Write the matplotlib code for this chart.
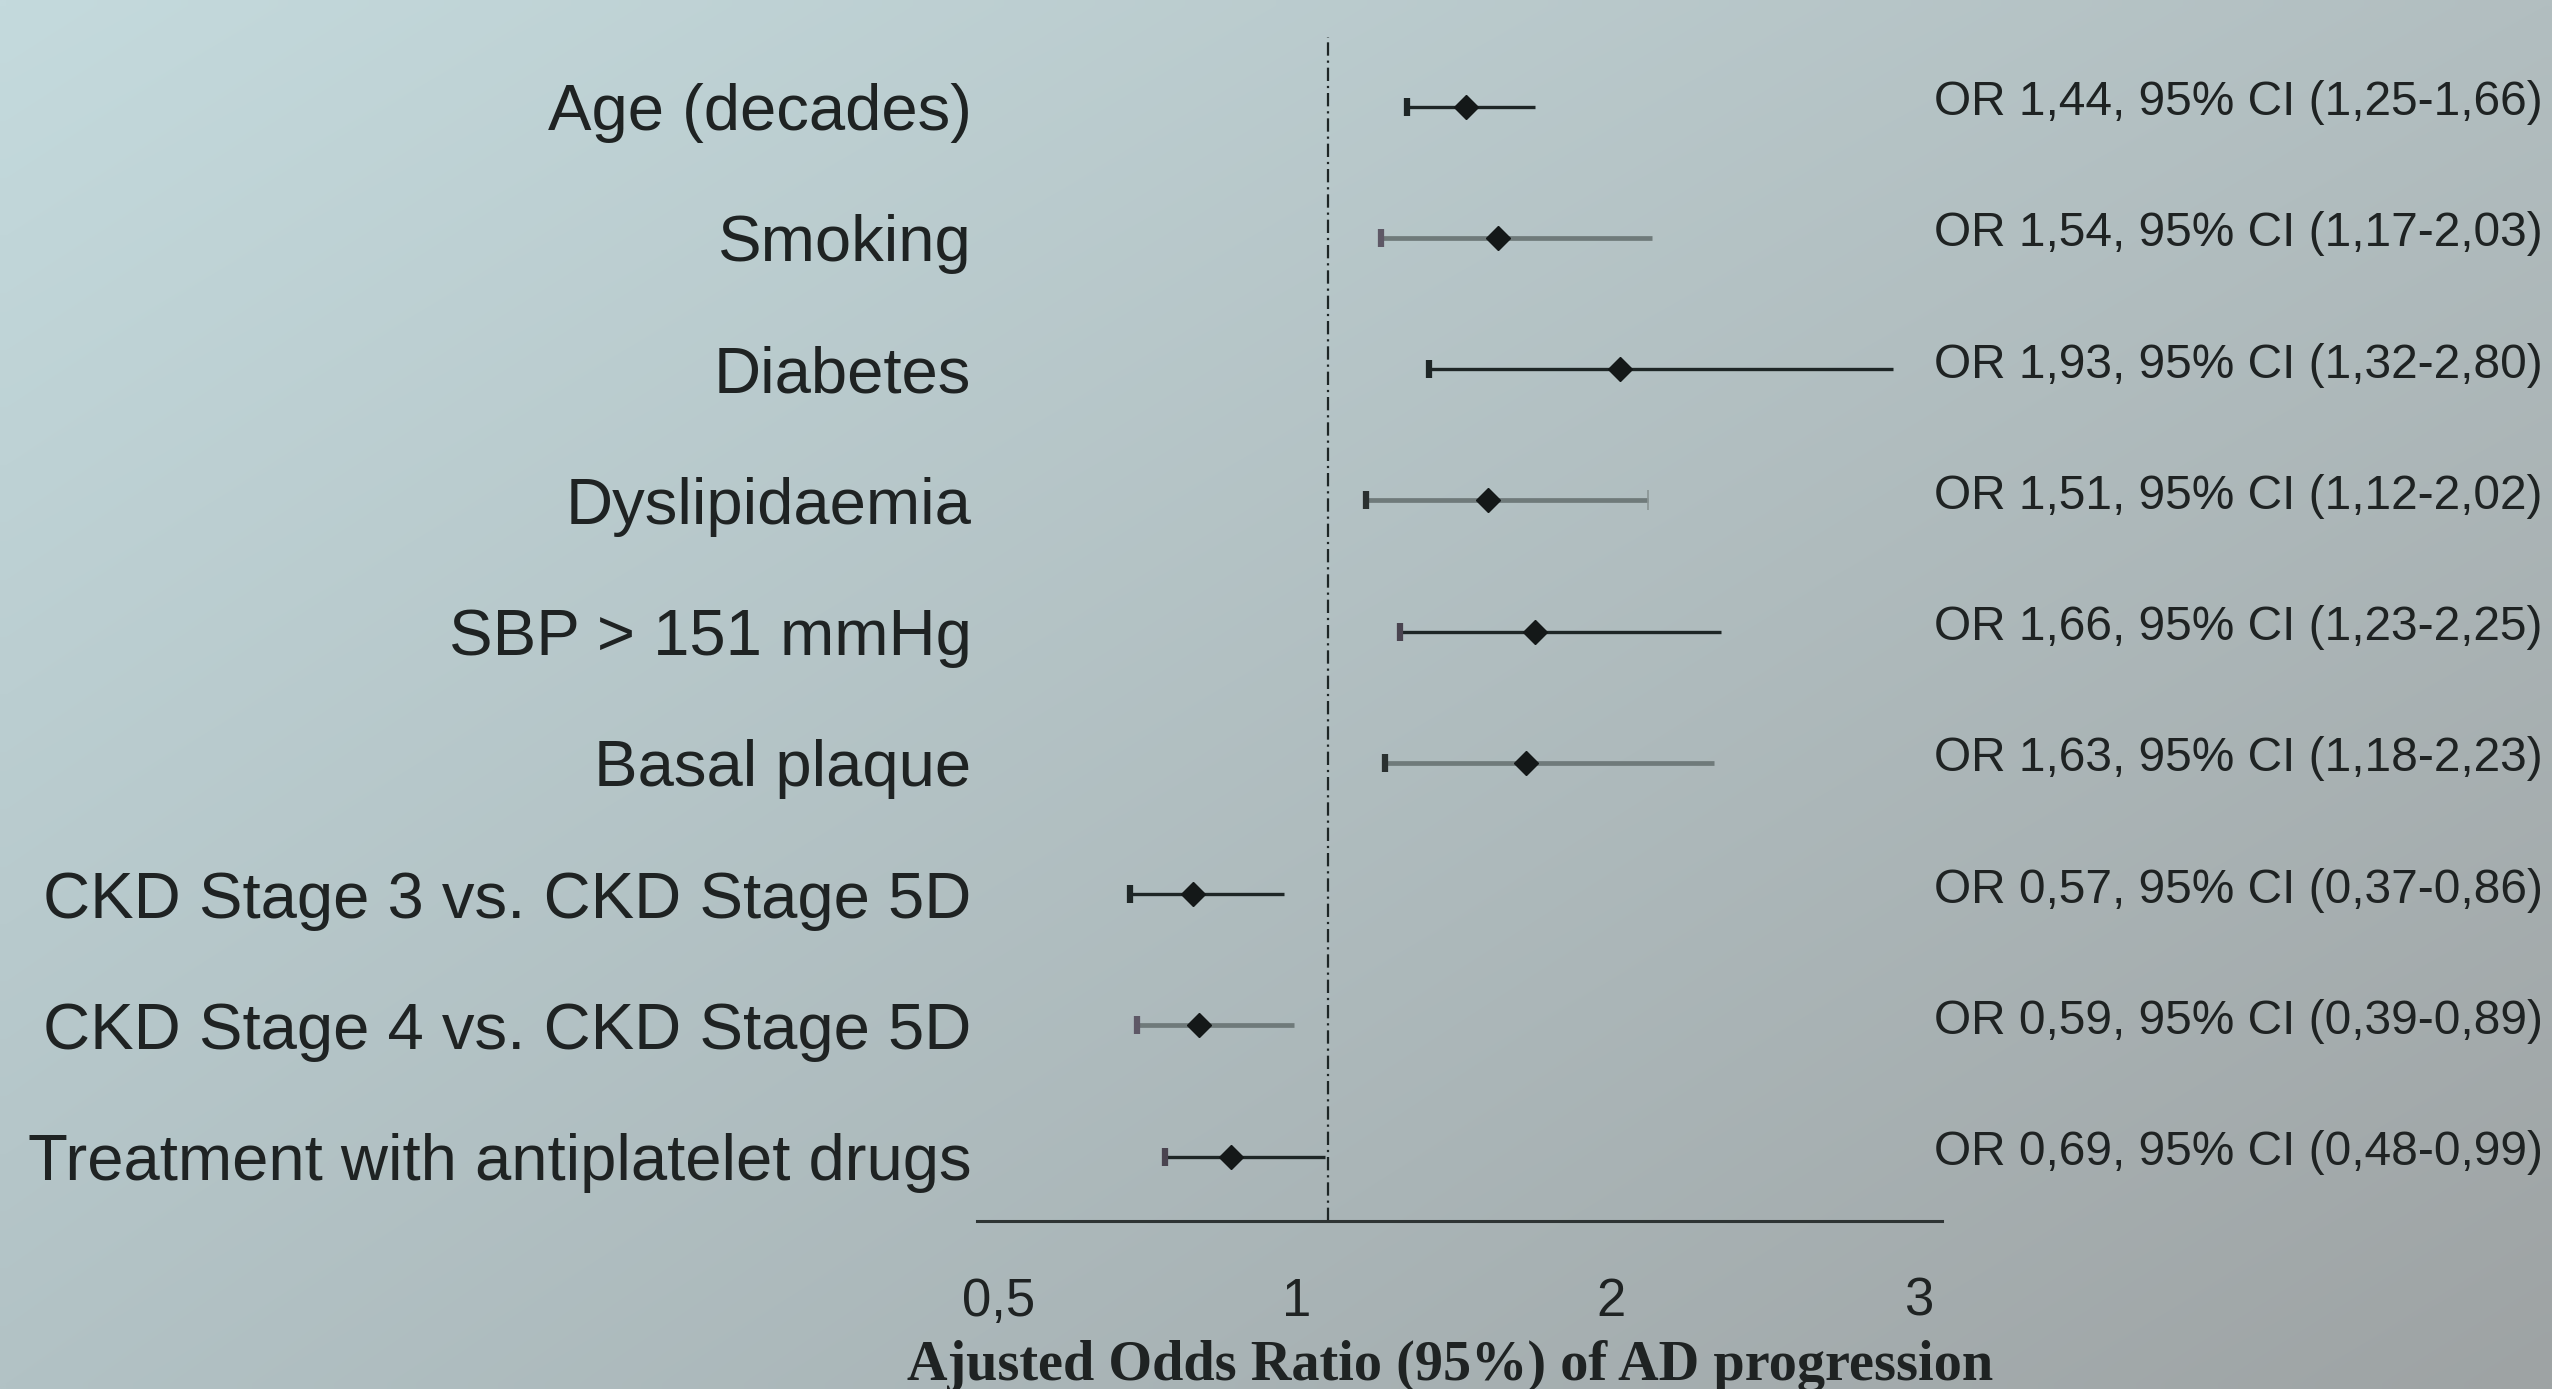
import numpy as np
import matplotlib
matplotlib.use("Agg")
import matplotlib.pyplot as plt

# datos del forest plot (de arriba a abajo)
labels = ['Age (decades)', 'Smoking', 'Diabetes', 'Dyslipidaemia', 'SBP > 151 mmHg',
          'Basal plaque', 'CKD Stage 3 vs. CKD Stage 5D', 'CKD Stage 4 vs. CKD Stage 5D',
          'Treatment with antiplatelet drugs']
odds = [1.44, 1.54, 1.93, 1.51, 1.66, 1.63, 0.57, 0.59, 0.69]
ci_low = [1.25, 1.17, 1.32, 1.12, 1.23, 1.18, 0.37, 0.39, 0.48]
ci_high = [1.66, 2.03, 2.80, 2.02, 2.25, 2.23, 0.86, 0.89, 0.99]
or_text = ['OR 1,44, 95% CI (1,25-1,66)', 'OR 1,54, 95% CI (1,17-2,03)',
           'OR 1,93, 95% CI (1,32-2,80)', 'OR 1,51, 95% CI (1,12-2,02)',
           'OR 1,66, 95% CI (1,23-2,25)', 'OR 1,63, 95% CI (1,18-2,23)',
           'OR 0,57, 95% CI (0,37-0,86)', 'OR 0,59, 95% CI (0,39-0,89)',
           'OR 0,69, 95% CI (0,48-0,99)']

# eje x: etiquetas como en la figura original (no coinciden con la escala)
tick_labels = ['0,5', '1', '2', '3']
tick_pos = [-0.05, 0.9, 1.9, 2.88]

# estilo de cada fila: oscuras y grises alternadas
line_colors = ['#1e2626', '#6f7a7a', '#1e2626', '#6f7a7a', '#1e2626',
               '#6f7a7a', '#1e2626', '#6f7a7a', '#1e2626']
line_widths = [2.4, 3.4, 2.4, 3.4, 2.4, 3.4, 2.4, 3.4, 2.4]
cap_colors = ['#1e2626', '#5e5866', '#1e2626', '#2a3030', '#4a4450',
              '#2a3030', '#1e2626', '#5e5866', '#4a4450']

text_color = '#1f2323'

fig = plt.figure(figsize=(25.52, 13.89), dpi=100)

# fondo degradado
bg = fig.add_axes([0, 0, 1, 1], zorder=-10)
gx, gy = np.meshgrid(np.linspace(0, 1, 200), np.linspace(0, 1, 120))
tl = np.array([196, 218, 221]) / 255
tr = np.array([178, 190, 192]) / 255
bl = np.array([178, 194, 197]) / 255
br = np.array([158, 163, 164]) / 255
img = ((1 - gx)[..., None] * (1 - gy)[..., None] * tl + gx[..., None] * (1 - gy)[..., None] * tr
       + (1 - gx)[..., None] * gy[..., None] * bl + gx[..., None] * gy[..., None] * br)
bg.imshow(img, aspect='auto', extent=[0, 1, 0, 1], origin='upper', interpolation='bilinear')
bg.set_axis_off()

ax = fig.add_axes([977 / 2552, 1 - 1221 / 1389, (1942 - 977) / 2552, (1221 - 37) / 1389])
ax.patch.set_alpha(0)

n = len(labels)
ys = np.arange(n)[::-1]

for i in range(n):
    y = ys[i]
    ax.plot([ci_low[i], ci_high[i]], [y, y], color=line_colors[i], lw=line_widths[i],
            solid_capstyle='butt', zorder=3)
    ax.plot(ci_low[i], y, marker='|', ms=13, mew=4.5, color=cap_colors[i], zorder=4)
    ax.plot(odds[i], y, marker='D', ms=12, color='#141818', mec='#141818', zorder=5)
    if labels[i] == 'Dyslipidaemia':
        ax.plot(ci_high[i], y, marker='|', ms=14, mew=1.2, color='#8a9494', zorder=4)
    ax.annotate(or_text[i], xy=(0.9917, y + 0.03), xycoords=('axes fraction', 'data'),
                ha='left', va='center', fontsize=34.5, color=text_color,
                family=['Liberation Sans', 'DejaVu Sans'], annotation_clip=False)

# linea de referencia OR = 1
ax.axvline(1, color='#1e2626', lw=1.6, dashes=(6, 2.2, 1, 2.2), zorder=2)

ax.set_xlim(-0.118, 2.955)
ax.set_ylim(-0.49, 8.53)

ax.set_yticks(ys)
ax.set_yticklabels(labels, fontsize=47, color=text_color, family=['Liberation Sans', 'DejaVu Sans'])
ax.tick_params(axis='y', length=0, pad=4)

ax.set_xticks(tick_pos)
ax.set_xticklabels(tick_labels, fontsize=38, color=text_color,
                   family=['Liberation Sans Narrow', 'Liberation Sans', 'DejaVu Sans'])
ax.tick_params(axis='x', length=0, pad=40)

for s in ['top', 'right', 'left']:
    ax.spines[s].set_visible(False)
ax.spines['bottom'].set_color('#2e3434')
ax.spines['bottom'].set_linewidth(2.2)

fig.text(1450 / 2552, 9 / 1389, 'Ajusted Odds Ratio (95%) of AD progression',
         ha='center', va='baseline', fontsize=40.5, fontweight='bold', color=text_color,
         family=['Liberation Serif', 'DejaVu Serif'])

fig.savefig('out.png', dpi=100)
